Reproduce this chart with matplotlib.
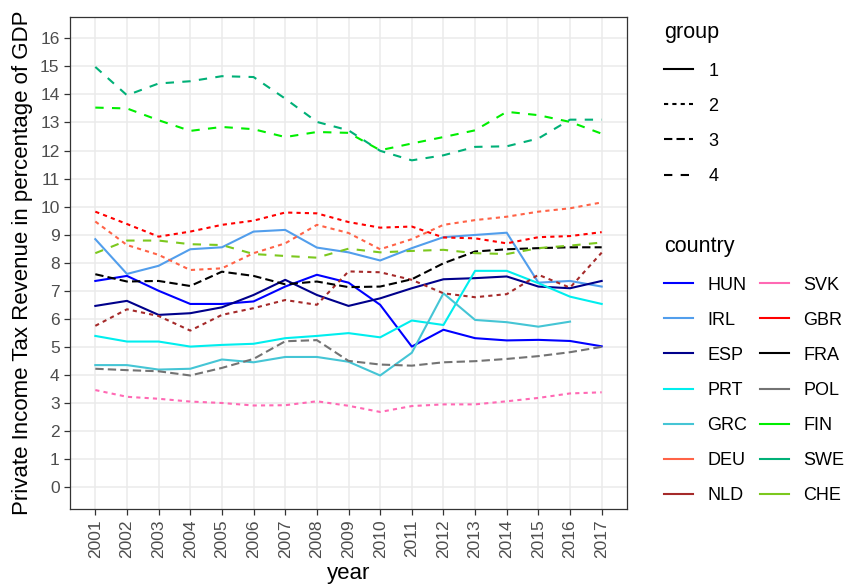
import matplotlib
matplotlib.use("Agg")
import matplotlib.pyplot as plt
from matplotlib.lines import Line2D
import numpy as np

plt.rcParams["font.family"] = ["Liberation Sans", "DejaVu Sans"]

years = np.arange(2001, 2018)

countries = ["HUN", "IRL", "ESP", "PRT", "GRC", "DEU", "NLD",
             "SVK", "GBR", "FRA", "POL", "FIN", "SWE", "CHE"]
country_group = {"HUN": 1, "IRL": 1, "ESP": 1, "PRT": 1, "GRC": 1,
                 "DEU": 2, "NLD": 2, "SVK": 2, "GBR": 2,
                 "FRA": 3, "POL": 3,
                 "FIN": 4, "SWE": 4, "CHE": 4}

hun = [7.35, 7.53, 7.00, 6.53, 6.53, 6.62, 7.15, 7.57, 7.29, 6.50, 5.01, 5.61, 5.31, 5.23, 5.25, 5.21, 5.02]
irl = [8.84, 7.60, 7.89, 8.48, 8.55, 9.11, 9.17, 8.54, 8.37, 8.08, 8.52, 8.91, 8.99, 9.07, 7.29, 7.35, 7.15]
esp = [6.46, 6.64, 6.14, 6.20, 6.41, 6.85, 7.39, 6.85, 6.46, 6.73, 7.09, 7.41, 7.45, 7.51, 7.15, 7.09, 7.35]
prt = [5.39, 5.19, 5.19, 5.01, 5.07, 5.11, 5.31, 5.39, 5.49, 5.34, 5.94, 5.78, 7.71, 7.71, 7.27, 6.79, 6.53]
grc = [4.35, 4.35, 4.19, 4.22, 4.55, 4.45, 4.64, 4.64, 4.47, 3.98, 4.79, 6.91, 5.96, 5.88, 5.72, 5.90, np.nan]
deu = [9.47, 8.63, 8.28, 7.74, 7.80, 8.34, 8.69, 9.35, 9.06, 8.48, 8.84, 9.35, 9.52, 9.64, 9.82, 9.94, 10.15]
nld = [5.75, 6.34, 6.10, 5.58, 6.14, 6.38, 6.67, 6.50, 7.69, 7.66, 7.39, 6.91, 6.77, 6.88, 7.57, 7.11, 8.36]
svk = [3.46, 3.22, 3.15, 3.05, 3.00, 2.91, 2.92, 3.06, 2.90, 2.68, 2.89, 2.95, 2.95, 3.06, 3.18, 3.34, 3.38]
gbr = [9.82, 9.38, 8.93, 9.11, 9.35, 9.50, 9.79, 9.76, 9.45, 9.25, 9.29, 8.90, 8.87, 8.69, 8.91, 8.95, 9.09]
fra = [7.59, 7.33, 7.35, 7.17, 7.68, 7.53, 7.23, 7.33, 7.13, 7.15, 7.41, 7.98, 8.40, 8.48, 8.52, 8.55, 8.55]
pol = [4.22, 4.17, 4.13, 3.98, 4.25, 4.57, 5.20, 5.24, 4.50, 4.37, 4.33, 4.45, 4.49, 4.57, 4.67, 4.81, 5.00]
fin = [13.53, 13.50, 13.08, 12.70, 12.84, 12.76, 12.48, 12.66, 12.63, 12.01, 12.25, 12.48, 12.72, 13.38, 13.26, 13.02, 12.60]
swe = [14.98, 13.97, 14.39, 14.47, 14.65, 14.62, 13.85, 13.02, 12.72, 11.99, 11.65, 11.83, 12.13, 12.15, 12.43, 13.10, 13.10]
che = [8.34, 8.79, 8.79, 8.66, 8.63, 8.31, 8.24, 8.18, 8.50, 8.37, 8.42, 8.46, 8.34, 8.31, 8.52, 8.61, 8.72]

series = {"HUN": hun, "IRL": irl, "ESP": esp, "PRT": prt, "GRC": grc,
          "DEU": deu, "NLD": nld, "SVK": svk, "GBR": gbr, "FRA": fra,
          "POL": pol, "FIN": fin, "SWE": swe, "CHE": che}

colors = {"HUN": "#0000FF", "IRL": "#529EEC", "ESP": "#00008B",
          "PRT": "#00EEEE", "GRC": "#45C5D5", "DEU": "#FF6347",
          "NLD": "#A52A2A", "SVK": "#FF69B4", "GBR": "#FF0000",
          "FRA": "#000000", "POL": "#737373", "FIN": "#00EE00",
          "SWE": "#00B077", "CHE": "#7CC81E"}

# ggplot default linetypes: solid, 22, 42, 44
line_styles = {1: "-", 2: (0, (2, 2)), 3: (0, (4, 2)), 4: (0, (4, 4))}

LW = 1.5

fig = plt.figure(figsize=(8.46, 5.86), dpi=100)
ax = fig.add_axes([70 / 846, 77 / 586, 557 / 846, 492 / 586])

for c in countries:
    ax.plot(years, series[c], color=colors[c],
            linestyle=line_styles[country_group[c]], linewidth=LW)

ax.set_xlim(2000.2, 2017.8)
ax.set_ylim(-0.78, 16.76)
ax.set_xticks(years)
ax.set_xticklabels([str(y) for y in years], rotation=90)
ax.set_yticks(np.arange(0, 17))

ax.grid(True, color="#EBEBEB", linewidth=1.1)
ax.set_axisbelow(True)
for s in ax.spines.values():
    s.set_color("#333333")
    s.set_linewidth(0.9)
ax.tick_params(axis="both", colors="#333333", labelcolor="#4D4D4D",
               labelsize=12.5, length=4, width=0.9)

ax.set_xlabel("year", fontsize=16, color="black", labelpad=3.5)
ax.set_ylabel("Private Income Tax Revenue in percentage of GDP",
              fontsize=16, color="black", labelpad=5)

# legends
group_handles = [Line2D([], [], color="black", linewidth=LW, linestyle=line_styles[g])
                 for g in (1, 2, 3, 4)]
leg1 = fig.legend(group_handles, ["1", "2", "3", "4"], title="group",
                  loc="upper left", bbox_to_anchor=(657 / 846, 1 - 15 / 586),
                  frameon=False, fontsize=13, title_fontsize=15.5,
                  handlelength=1.6, handletextpad=0.85, labelspacing=1.0,
                  alignment="left", borderaxespad=0)
leg1._legend_box.sep = 14

country_handles = [Line2D([], [], color=colors[c], linewidth=LW) for c in countries]
leg2 = fig.legend(country_handles, countries, title="country", ncol=2,
                  loc="upper left", bbox_to_anchor=(657 / 846, 1 - 229 / 586),
                  frameon=False, fontsize=13, title_fontsize=15.5,
                  handlelength=1.6, handletextpad=0.8, labelspacing=1.0,
                  columnspacing=0.7, alignment="left", borderaxespad=0)
leg2._legend_box.sep = 14

fig.savefig("out.png", dpi=100)
